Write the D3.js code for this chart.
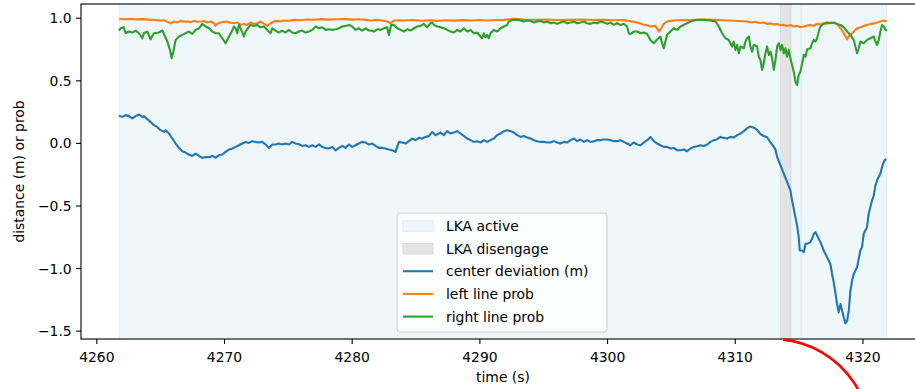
<!DOCTYPE html>
<html>
<head>
<meta charset="utf-8">
<script src="https://cdn.jsdelivr.net/npm/d3@7"></script>
<style>
  html, body { margin: 0; padding: 0; background: #fff; overflow: hidden; }
  svg { display: block; font-family: "DejaVu Sans", sans-serif; }
</style>
</head>
<body>
<svg id="chart" width="915" height="389"></svg>
<script>
// ---- data ----------------------------------------------------------------
const xTicks = [4260, 4270, 4280, 4290, 4300, 4310, 4320];
const yTicks = [-1.5, -1.0, -0.5, 0.0, 0.5, 1.0];

// periods when LKA was active / disengaged (time in s)
const lkaActive = [[4261.8, 4315.2], [4315.2, 4321.9]];
const lkaDisengage = [[4313.6, 4314.4]];

// lateral offset from lane centre (m)
const centerDev = [
  [4261.77,0.217],[4262.03,0.208],[4262.29,0.222],[4262.56,0.214],[4262.82,0.195],[4263.08,0.214],[4263.34,0.227],[4263.60,0.208],
  [4263.73,0.214],[4263.99,0.190],[4264.25,0.168],[4264.51,0.142],[4264.77,0.128],[4265.03,0.102],[4265.30,0.088],[4265.43,0.102],
  [4265.69,0.075],[4265.95,0.035],[4266.21,-0.005],[4266.47,-0.040],[4266.73,-0.067],[4266.99,-0.077],[4267.25,-0.093],[4267.51,-0.104],
  [4267.77,-0.085],[4268.04,-0.104],[4268.30,-0.120],[4268.56,-0.112],[4268.82,-0.115],[4269.08,-0.104],[4269.34,-0.117],[4269.60,-0.099],
  [4269.86,-0.093],[4270.12,-0.072],[4270.39,-0.053],[4270.65,-0.045],[4270.91,-0.032],[4271.17,-0.019],[4271.43,-0.005],[4271.69,0.008],
  [4271.95,0.000],[4272.21,0.014],[4272.47,0.008],[4272.73,0.003],[4273.00,0.008],[4273.26,-0.013],[4273.52,-0.040],[4273.78,-0.013],
  [4274.04,-0.013],[4274.30,-0.005],[4274.56,-0.013],[4274.82,-0.005],[4275.08,-0.013],[4275.34,0.008],[4275.60,-0.005],[4275.87,-0.011],
  [4276.13,-0.024],[4276.39,-0.019],[4276.65,-0.032],[4276.91,-0.019],[4277.17,-0.032],[4277.43,-0.011],[4277.69,-0.032],[4277.95,-0.040],
  [4278.21,-0.045],[4278.48,-0.032],[4278.74,-0.059],[4279.00,-0.040],[4279.26,-0.024],[4279.52,-0.040],[4279.78,-0.013],[4280.04,-0.032],
  [4280.30,-0.019],[4280.56,-0.005],[4280.82,0.008],[4281.09,0.003],[4281.35,-0.013],[4281.61,-0.005],[4281.87,-0.024],[4282.13,-0.040],
  [4282.39,-0.040],[4282.65,-0.045],[4282.91,-0.053],[4283.17,-0.059],[4283.43,-0.072],[4283.56,-0.032],[4283.70,0.008],[4283.96,0.003],
  [4284.22,-0.005],[4284.48,0.014],[4284.74,0.035],[4285.00,0.022],[4285.26,0.040],[4285.52,0.035],[4285.78,0.048],[4286.04,0.054],
  [4286.31,0.088],[4286.57,0.062],[4286.83,0.075],[4286.96,0.083],[4287.22,0.062],[4287.48,0.094],[4287.74,0.075],[4288.00,0.083],
  [4288.26,0.094],[4288.52,0.075],[4288.78,0.056],[4289.04,0.035],[4289.31,0.022],[4289.57,0.008],[4289.83,0.014],[4290.09,0.003],
  [4290.35,0.022],[4290.61,0.008],[4290.87,0.022],[4291.13,0.035],[4291.39,0.062],[4291.65,0.075],[4291.92,0.094],[4292.18,0.102],
  [4292.44,0.094],[4292.70,0.083],[4292.96,0.062],[4293.22,0.048],[4293.48,0.056],[4293.74,0.043],[4294.00,0.035],[4294.26,0.022],
  [4294.53,0.014],[4294.79,0.008],[4295.05,0.008],[4295.31,0.003],[4295.57,0.003],[4295.83,0.014],[4296.09,0.003],[4296.35,-0.005],
  [4296.61,0.008],[4296.87,0.003],[4297.14,0.022],[4297.40,0.035],[4297.66,0.014],[4297.92,0.027],[4298.18,0.008],[4298.44,0.022],
  [4298.70,0.008],[4298.96,0.014],[4299.22,0.022],[4299.48,0.022],[4299.75,0.027],[4300.01,0.027],[4300.27,0.022],[4300.53,0.014],
  [4300.79,0.014],[4301.05,0.022],[4301.31,0.008],[4301.57,-0.005],[4301.83,-0.019],[4302.09,0.003],[4302.36,-0.013],[4302.62,-0.019],
  [4302.88,0.003],[4303.14,0.022],[4303.40,0.048],[4303.66,0.014],[4303.92,-0.005],[4304.18,-0.019],[4304.44,-0.032],[4304.70,-0.032],
  [4304.97,-0.045],[4305.23,-0.040],[4305.49,-0.059],[4305.75,-0.059],[4306.01,-0.053],[4306.27,-0.067],[4306.53,-0.045],[4306.79,-0.032],
  [4307.05,-0.027],[4307.31,-0.019],[4307.58,-0.024],[4307.84,-0.013],[4308.10,0.008],[4308.36,0.022],[4308.62,0.030],[4308.88,0.048],
  [4309.14,0.040],[4309.40,0.035],[4309.66,0.048],[4309.92,0.043],[4310.19,0.062],[4310.45,0.075],[4310.71,0.094],[4310.97,0.118],
  [4311.23,0.131],[4311.49,0.122],[4311.75,0.105],[4312.01,0.071],[4312.27,0.055],[4312.53,0.045],[4312.80,0.005],[4313.06,-0.032],
  [4313.19,-0.053],[4313.32,-0.112],[4313.58,-0.179],[4313.84,-0.245],[4314.10,-0.312],[4314.36,-0.379],[4314.49,-0.459],[4314.62,-0.526],
  [4314.75,-0.593],[4314.88,-0.659],[4315.01,-0.753],[4315.09,-0.860],[4315.27,-0.860],[4315.41,-0.873],[4315.54,-0.806],[4315.67,-0.806],
  [4315.93,-0.793],[4316.06,-0.766],[4316.19,-0.726],[4316.32,-0.713],[4316.45,-0.740],[4316.71,-0.793],[4316.97,-0.860],[4317.23,-0.913],
  [4317.49,-0.967],[4317.62,-1.047],[4317.75,-1.114],[4317.88,-1.194],[4318.01,-1.287],[4318.14,-1.354],[4318.28,-1.287],[4318.41,-1.341],
  [4318.54,-1.394],[4318.67,-1.442],[4318.80,-1.421],[4318.93,-1.341],[4319.06,-1.180],[4319.19,-1.100],[4319.32,-1.047],[4319.58,-0.993],
  [4319.71,-0.927],[4319.84,-0.860],[4319.97,-0.833],[4320.10,-0.726],[4320.23,-0.700],[4320.36,-0.673],[4320.49,-0.566],[4320.62,-0.513],
  [4320.76,-0.459],[4320.89,-0.419],[4321.02,-0.339],[4321.15,-0.299],[4321.41,-0.245],[4321.54,-0.192],[4321.67,-0.152],[4321.85,-0.125]
];

// left lane line detection probability
const leftProb = [
  [4261.8,0.991],[4262.2,0.988],[4262.7,0.990],[4263.2,0.987],[4263.7,0.989],[4264.1,0.985],[4264.5,0.983],[4265.0,0.978],
  [4265.3,0.980],[4265.56,0.967],[4265.82,0.956],[4266.08,0.970],[4266.34,0.962],[4266.6,0.975],[4266.9,0.968],[4267.12,0.970],
  [4267.4,0.965],[4267.64,0.975],[4267.9,0.968],[4268.17,0.970],[4268.45,0.974],[4268.69,0.962],[4268.95,0.970],[4269.21,0.956],
  [4269.34,0.935],[4269.47,0.951],[4269.73,0.962],[4270.0,0.968],[4270.25,0.970],[4270.5,0.960],[4270.78,0.956],[4271.04,0.962],
  [4271.3,0.943],[4271.56,0.951],[4271.82,0.943],[4272.08,0.962],[4272.35,0.952],[4272.6,0.956],[4272.86,0.970],[4273.13,0.951],
  [4273.39,0.935],[4273.65,0.956],[4273.91,0.970],[4274.17,0.975],[4274.45,0.970],[4274.69,0.978],[4275.1,0.976],[4275.47,0.983],
  [4276.0,0.980],[4276.5,0.986],[4277.0,0.984],[4277.6,0.989],[4278.2,0.985],[4278.8,0.988],[4279.4,0.989],[4280.0,0.985],
  [4280.6,0.988],[4281.1,0.983],[4281.5,0.978],[4282.0,0.983],[4282.5,0.976],[4282.78,0.970],[4283.04,0.956],[4283.3,0.978],
  [4283.7,0.980],[4284.1,0.978],[4284.8,0.982],[4285.5,0.976],[4286.1,0.980],[4286.7,0.975],[4287.4,0.980],[4288.0,0.977],
  [4288.7,0.981],[4289.3,0.978],[4290.0,0.982],[4290.6,0.978],[4291.3,0.982],[4291.9,0.983],[4292.7,0.991],[4293.5,0.986],
  [4294.5,0.983],[4295.3,0.986],[4296.2,0.982],[4297.1,0.983],[4298.0,0.986],[4298.9,0.982],[4299.75,0.983],[4300.6,0.980],
  [4301.3,0.981],[4301.83,0.972],[4302.1,0.968],[4302.36,0.962],[4302.6,0.955],[4302.88,0.943],[4303.15,0.940],[4303.4,0.930],
  [4303.79,0.935],[4304.05,0.890],[4304.24,0.916],[4304.44,0.951],[4304.7,0.970],[4305.23,0.978],[4305.8,0.982],[4306.4,0.980],
  [4307.05,0.983],[4307.7,0.985],[4308.36,0.983],[4309.0,0.980],[4309.66,0.978],[4310.3,0.974],[4310.97,0.970],[4311.3,0.962],
  [4311.6,0.968],[4311.9,0.958],[4312.27,0.962],[4312.55,0.950],[4312.8,0.956],[4313.05,0.945],[4313.32,0.951],[4313.6,0.940],
  [4313.84,0.943],[4314.1,0.935],[4314.36,0.943],[4314.6,0.930],[4314.88,0.935],[4315.14,0.924],[4315.41,0.930],[4315.7,0.938],
  [4315.93,0.943],[4316.2,0.936],[4316.45,0.951],[4316.7,0.946],[4316.97,0.956],[4317.25,0.952],[4317.49,0.962],[4317.75,0.958],
  [4318.01,0.951],[4318.28,0.916],[4318.54,0.876],[4318.8,0.828],[4318.93,0.850],[4319.19,0.876],[4319.58,0.916],[4319.85,0.925],
  [4320.1,0.935],[4320.4,0.945],[4320.63,0.951],[4320.9,0.955],[4321.15,0.962],[4321.4,0.970],[4321.67,0.978],[4321.9,0.970]
];

// right lane line detection probability
const rightProb = [
  [4261.77,0.898],[4261.90,0.916],[4262.16,0.924],[4262.29,0.876],[4262.56,0.890],[4262.82,0.882],[4263.08,0.898],[4263.34,0.876],
  [4263.60,0.836],[4263.73,0.876],[4263.99,0.890],[4264.25,0.828],[4264.51,0.876],[4264.90,0.882],[4265.17,0.898],[4265.30,0.871],
  [4265.56,0.810],[4265.77,0.743],[4265.90,0.676],[4266.03,0.729],[4266.21,0.823],[4266.47,0.850],[4266.73,0.863],[4266.99,0.876],
  [4267.25,0.890],[4267.51,0.871],[4267.77,0.903],[4268.04,0.916],[4268.30,0.951],[4268.56,0.930],[4268.82,0.916],[4269.08,0.890],
  [4269.34,0.876],[4269.60,0.876],[4269.86,0.836],[4270.12,0.796],[4270.39,0.850],[4270.57,0.882],[4270.78,0.930],[4270.91,0.916],
  [4271.04,0.876],[4271.17,0.943],[4271.35,0.903],[4271.56,0.850],[4271.69,0.890],[4271.87,0.916],[4272.08,0.943],[4272.34,0.935],
  [4272.60,0.943],[4272.86,0.924],[4273.13,0.930],[4273.39,0.903],[4273.65,0.876],[4273.78,0.916],[4274.04,0.898],[4274.30,0.882],
  [4274.56,0.898],[4274.82,0.882],[4275.08,0.903],[4275.34,0.882],[4275.60,0.876],[4275.87,0.890],[4276.13,0.898],[4276.39,0.882],
  [4276.65,0.890],[4276.91,0.903],[4277.17,0.930],[4277.43,0.916],[4277.69,0.924],[4277.95,0.903],[4278.21,0.908],[4278.48,0.903],
  [4278.74,0.908],[4279.00,0.916],[4279.26,0.930],[4279.52,0.935],[4279.78,0.943],[4280.04,0.930],[4280.30,0.903],[4280.56,0.916],
  [4280.82,0.898],[4281.09,0.916],[4281.35,0.898],[4281.48,0.898],[4281.74,0.890],[4282.00,0.908],[4282.26,0.903],[4282.52,0.916],
  [4282.78,0.924],[4282.91,0.863],[4283.09,0.943],[4283.30,0.943],[4283.57,0.916],[4283.83,0.903],[4284.09,0.890],[4284.35,0.908],
  [4284.61,0.898],[4284.87,0.916],[4285.13,0.930],[4285.39,0.935],[4285.65,0.951],[4285.91,0.924],[4286.17,0.956],[4286.31,0.962],
  [4286.44,0.943],[4286.70,0.930],[4286.96,0.924],[4287.22,0.916],[4287.48,0.903],[4287.74,0.890],[4288.00,0.882],[4288.26,0.903],
  [4288.52,0.890],[4288.78,0.916],[4289.05,0.890],[4289.31,0.903],[4289.57,0.876],[4289.83,0.882],[4290.09,0.850],[4290.22,0.836],
  [4290.35,0.876],[4290.48,0.844],[4290.61,0.863],[4290.74,0.836],[4290.87,0.876],[4291.13,0.903],[4291.40,0.890],[4291.66,0.916],
  [4291.92,0.930],[4292.18,0.943],[4292.31,0.970],[4292.57,0.983],[4292.96,0.983],[4293.22,0.978],[4293.48,0.970],[4293.74,0.978],
  [4294.00,0.975],[4294.27,0.962],[4294.53,0.970],[4294.79,0.975],[4295.05,0.962],[4295.31,0.970],[4295.57,0.956],[4295.83,0.962],
  [4296.09,0.951],[4296.35,0.962],[4296.61,0.970],[4296.88,0.956],[4297.14,0.962],[4297.40,0.970],[4297.66,0.956],[4297.92,0.962],
  [4298.18,0.970],[4298.44,0.956],[4298.70,0.951],[4298.96,0.962],[4299.22,0.956],[4299.49,0.970],[4299.75,0.962],[4300.01,0.951],
  [4300.27,0.962],[4300.53,0.943],[4300.79,0.956],[4301.05,0.943],[4301.31,0.951],[4301.57,0.930],[4301.70,0.876],[4301.83,0.870],
  [4302.10,0.890],[4302.36,0.890],[4302.62,0.876],[4302.88,0.882],[4303.14,0.871],[4303.40,0.823],[4303.66,0.796],[4303.79,0.810],
  [4303.92,0.828],[4304.18,0.850],[4304.31,0.796],[4304.44,0.756],[4304.57,0.810],[4304.70,0.863],[4304.97,0.890],[4305.23,0.916],
  [4305.49,0.903],[4305.75,0.930],[4306.01,0.943],[4306.27,0.956],[4306.53,0.970],[4306.79,0.978],[4307.05,0.983],[4307.58,0.983],
  [4308.10,0.978],[4308.49,0.970],[4308.75,0.930],[4309.01,0.876],[4309.27,0.836],[4309.53,0.823],[4309.66,0.796],[4309.79,0.770],
  [4309.92,0.810],[4310.06,0.743],[4310.19,0.783],[4310.32,0.716],[4310.45,0.770],[4310.71,0.756],[4310.84,0.810],[4310.97,0.836],
  [4311.10,0.850],[4311.23,0.770],[4311.36,0.729],[4311.49,0.783],[4311.75,0.770],[4311.88,0.689],[4312.01,0.663],[4312.14,0.583],
  [4312.27,0.636],[4312.40,0.716],[4312.53,0.770],[4312.67,0.703],[4312.80,0.729],[4312.93,0.676],[4313.06,0.583],[4313.19,0.663],
  [4313.32,0.770],[4313.45,0.796],[4313.58,0.743],[4313.71,0.783],[4313.84,0.716],[4313.97,0.756],[4314.10,0.689],[4314.23,0.743],
  [4314.36,0.676],[4314.49,0.623],[4314.62,0.569],[4314.75,0.489],[4314.88,0.462],[4315.01,0.543],[4315.14,0.569],[4315.28,0.636],
  [4315.41,0.703],[4315.54,0.689],[4315.67,0.748],[4315.93,0.756],[4316.06,0.796],[4316.19,0.823],[4316.32,0.810],[4316.45,0.836],
  [4316.58,0.890],[4316.71,0.930],[4316.97,0.951],[4317.23,0.962],[4317.49,0.956],[4317.75,0.962],[4318.02,0.951],[4318.28,0.943],
  [4318.54,0.924],[4318.80,0.890],[4319.06,0.863],[4319.32,0.823],[4319.45,0.770],[4319.58,0.716],[4319.71,0.756],[4319.84,0.810],
  [4320.10,0.796],[4320.36,0.823],[4320.62,0.836],[4320.89,0.850],[4321.02,0.810],[4321.15,0.783],[4321.28,0.823],[4321.41,0.890],
  [4321.54,0.943],[4321.67,0.930],[4321.80,0.903],[4321.93,0.898]
];

// ---- layout ---------------------------------------------------------------
const svg = d3.select("#chart");
const plot = { left: 81, right: 925, top: 4, bottom: 339 };
const FONT = 13.9;

const x = d3.scaleLinear().domain([4258.8, 4324.9]).range([plot.left, plot.right]);
const y = d3.scaleLinear().domain([-1.567, 1.11]).range([plot.bottom, plot.top]);

svg.append("defs").append("clipPath").attr("id", "plotClip")
  .append("rect")
  .attr("x", plot.left).attr("y", plot.top)
  .attr("width", plot.right - plot.left).attr("height", plot.bottom - plot.top);

const area = svg.append("g").attr("clip-path", "url(#plotClip)");

// shaded time spans
const activeFill = "rgb(239,247,250)";
const activeEdge = "rgb(222,238,245)";
area.selectAll("rect.active").data(lkaActive).join("rect")
  .attr("class", "active")
  .attr("x", d => x(d[0])).attr("width", d => x(d[1]) - x(d[0]))
  .attr("y", plot.top).attr("height", plot.bottom - plot.top)
  .attr("fill", activeFill);
area.selectAll("line.activeEdge").data(lkaActive.flat()).join("line")
  .attr("class", "activeEdge")
  .attr("x1", d => x(d)).attr("x2", d => x(d))
  .attr("y1", plot.top).attr("y2", plot.bottom)
  .attr("stroke", activeEdge).attr("stroke-width", 1);

area.selectAll("rect.diseng").data(lkaDisengage).join("rect")
  .attr("class", "diseng")
  .attr("x", d => x(d[0])).attr("width", d => x(d[1]) - x(d[0]))
  .attr("y", plot.top).attr("height", plot.bottom - plot.top)
  .attr("fill", "rgb(228,228,228)")
  .attr("stroke", "rgb(218,218,218)").attr("stroke-width", 1);

// series lines
const line = d3.line().x(d => x(d[0])).y(d => y(d[1]));
const series = [
  { data: centerDev, color: "#1f77b4", name: "center deviation (m)" },
  { data: leftProb, color: "#ff7f0e", name: "left line prob" },
  { data: rightProb, color: "#2ca02c", name: "right line prob" }
];
series.forEach(s => {
  area.append("path")
    .attr("d", line(s.data))
    .attr("fill", "none")
    .attr("stroke", s.color)
    .attr("stroke-width", 2.1)
    .attr("stroke-linejoin", "round")
    .attr("stroke-linecap", "butt");
});

// axes
const xAxis = d3.axisBottom(x).tickValues(xTicks).tickFormat(d3.format("d")).tickSize(4.9).tickPadding(4.4);
const yAxis = d3.axisLeft(y).tickValues(yTicks).tickFormat(d3.format(".1f")).tickSize(4.9).tickPadding(4.4);

const gx = svg.append("g").attr("transform", `translate(0,${plot.bottom})`).call(xAxis);
const gy = svg.append("g").attr("transform", `translate(${plot.left},0)`).call(yAxis);
[gx, gy].forEach(g => {
  g.select(".domain").remove();
  g.selectAll(".tick line").attr("stroke", "#000").attr("stroke-width", 1.1);
  g.selectAll(".tick text").attr("fill", "#000").style("font-size", FONT + "px")
    .style("font-family", "'DejaVu Sans', sans-serif");
});
gx.selectAll(".tick text").attr("dy", null).attr("y", 0).attr("dominant-baseline", "auto")
  .attr("transform", "translate(0,23)");
gy.selectAll(".tick text").attr("dy", "0.36em");

// frame
svg.append("rect")
  .attr("x", plot.left).attr("y", plot.top)
  .attr("width", plot.right - plot.left).attr("height", plot.bottom - plot.top)
  .attr("fill", "none").attr("stroke", "#000").attr("stroke-width", 1.1);

// axis labels
svg.append("text")
  .attr("x", (plot.left + plot.right) / 2).attr("y", 382)
  .attr("text-anchor", "middle").style("font-size", FONT + "px").text("time (s)");
svg.append("text")
  .attr("transform", `translate(24,${(plot.top + plot.bottom) / 2}) rotate(-90)`)
  .attr("text-anchor", "middle").style("font-size", FONT + "px").text("distance (m) or prob");

// legend
const legend = svg.append("g");
legend.append("rect")
  .attr("x", 397).attr("y", 213).attr("width", 210).attr("height", 119)
  .attr("rx", 3).attr("ry", 3)
  .attr("fill", "#fff").attr("fill-opacity", 0.8)
  .attr("stroke", "#cccccc").attr("stroke-width", 1);

const legendItems = [
  { type: "patch", fill: activeFill, edge: activeEdge, name: "LKA active" },
  { type: "patch", fill: "rgb(228,228,228)", edge: "rgb(218,218,218)", name: "LKA disengage" },
  ...series.map(s => ({ type: "line", color: s.color, name: s.name }))
];
const rowY0 = 225.8, rowStep = 22.7, handleX0 = 403, handleX1 = 433, labelX = 446;
legendItems.forEach((it, i) => {
  const cy = rowY0 + i * rowStep;
  if (it.type === "patch") {
    legend.append("rect")
      .attr("x", handleX0).attr("y", cy - 5).attr("width", handleX1 - handleX0).attr("height", 10.5)
      .attr("fill", it.fill).attr("stroke", it.edge).attr("stroke-width", 1);
  } else {
    legend.append("line")
      .attr("x1", handleX0).attr("x2", handleX1).attr("y1", cy).attr("y2", cy)
      .attr("stroke", it.color).attr("stroke-width", 2.1);
  }
  legend.append("text")
    .attr("x", labelX).attr("y", cy + 5)
    .style("font-size", FONT + "px").text(it.name);
});

// red highlight ring below the axis near the disengage time
const ringCx = x(4313.0), ringCy = y(-2.343), ringR = 97;
const ring = d3.path();
const a0 = Math.atan2(plot.bottom + 1 - ringCy, x(4313.78) - ringCx);
ring.arc(ringCx, ringCy, ringR, a0, 0.3);
svg.append("path").attr("d", ring.toString())
  .attr("fill", "none").attr("stroke", "#ff0000").attr("stroke-width", 2.6);
</script>
</body>
</html>
